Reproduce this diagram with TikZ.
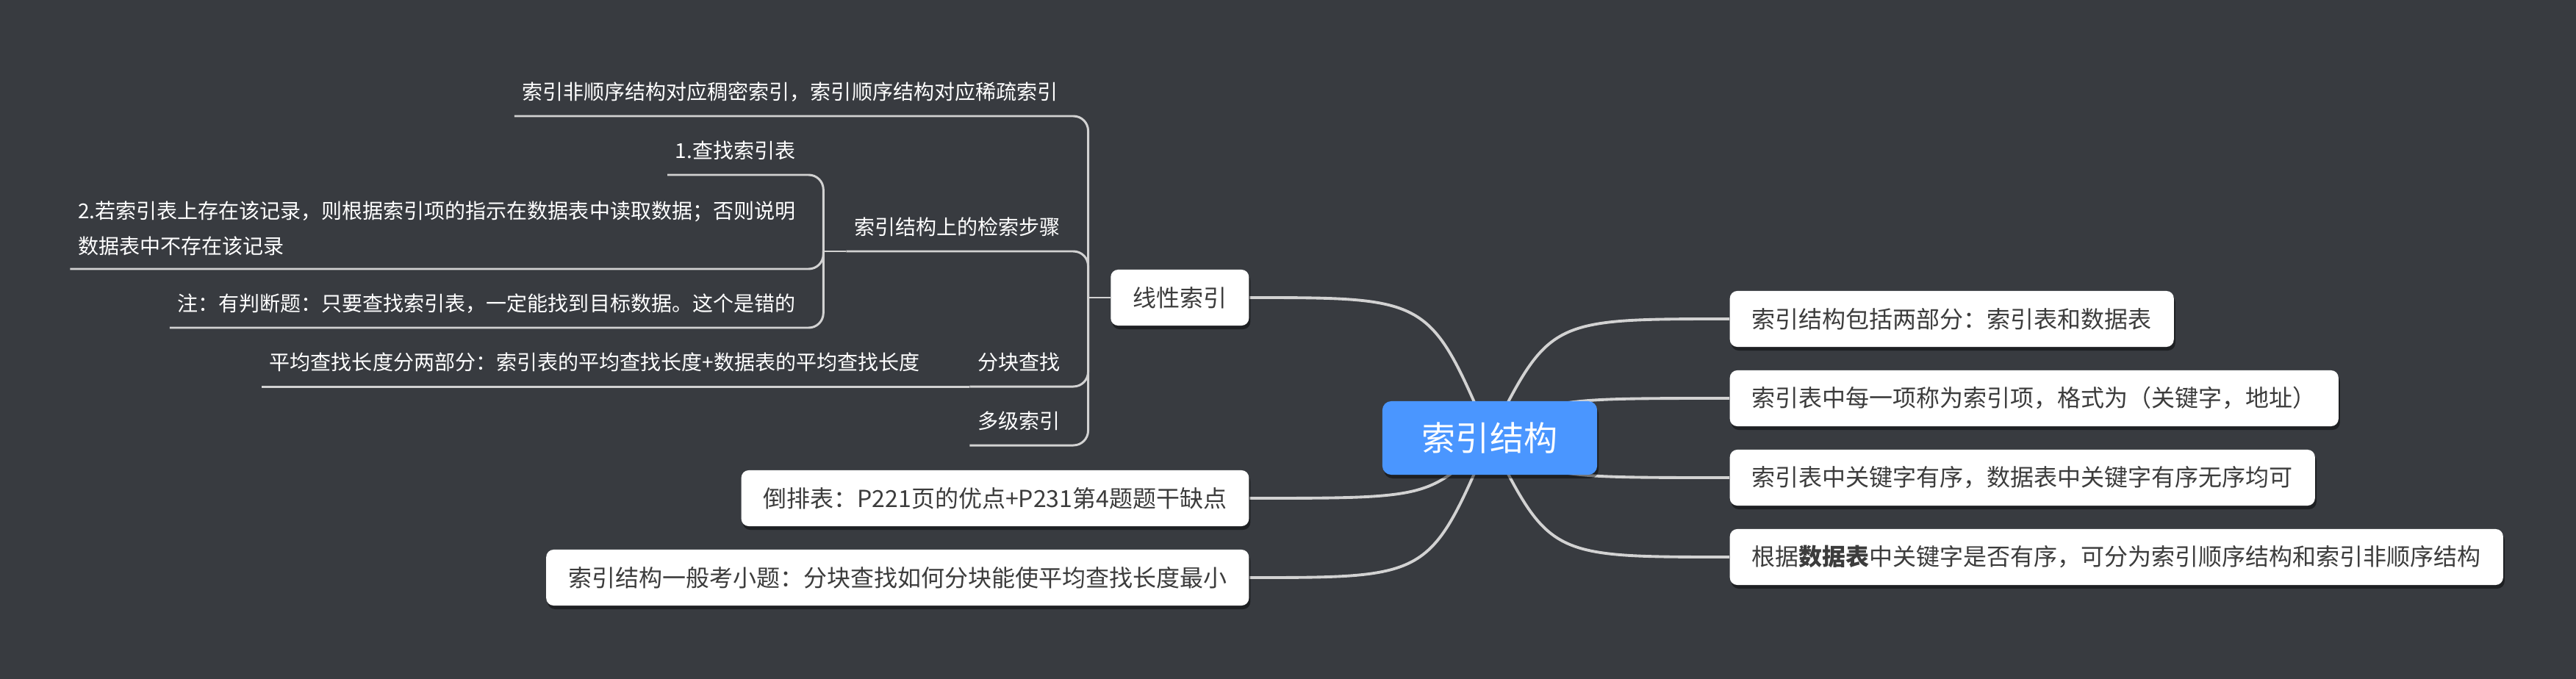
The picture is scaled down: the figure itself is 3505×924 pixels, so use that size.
\documentclass[tikz,border=0pt]{standalone}
\usepackage{fontspec}
\setmainfont{Noto Sans CJK SC}
\usetikzlibrary{backgrounds,calc,shadows}

\definecolor{bgcol}{HTML}{383B40}
\definecolor{rootblue}{HTML}{4A96FF}
\definecolor{linegray}{HTML}{D2D2D2}
\definecolor{textgray}{HTML}{3C3C3C}

\begin{document}
\begin{tikzpicture}[x=0.01cm, y=-0.01cm,
  rootbox/.style={fill=rootblue, text=white, rounded corners=0.12cm, minimum width=2.92cm, minimum height=1cm,
    font=\fontsize{13.1pt}{16pt}\selectfont, drop shadow={shadow xshift=0.02cm, shadow yshift=-0.05cm, opacity=0.45, fill=black}},
  topic/.style={fill=white, text=textgray, rounded corners=0.1cm, minimum height=0.76cm, inner xsep=0.3cm,
    font=\fontsize{9.1pt}{11pt}\selectfont, drop shadow={shadow xshift=0.02cm, shadow yshift=-0.05cm, opacity=0.45, fill=black}},
  leaf/.style={anchor=south east, text=white, inner xsep=0.1cm, inner ysep=0.13cm, text depth=0.25em,
    font=\fontsize{7.97pt}{9.5pt}\selectfont},
  link/.style={draw=linegray, line width=1.1pt},
  branch/.style={draw=linegray, line width=0.85pt, rounded corners=0.2cm}]
  \useasboundingbox (0,0) rectangle (3505,924);

  % centre and right side
  \node[rootbox] (root) at (2027,596) {索引结构};
  \node[topic, anchor=west] (parts) at (2353,434) {索引结构包括两部分：索引表和数据表};
  \node[topic, anchor=west] (item) at (2353,542) {索引表中每一项称为索引项，格式为（关键字，地址）};
  \node[topic, anchor=west] (order) at (2353,650) {索引表中关键字有序，数据表中关键字有序无序均可};
  \node[topic, anchor=west] (kind) at (2353,758) {根据\textbf{数据表}中关键字是否有序，可分为索引顺序结构和索引非顺序结构};

  % left side
  \node[topic, anchor=east] (linear) at (1700,405) {线性索引};
  \node[topic, anchor=east] (invert) at (1700,678) {倒排表：P221页的优点+P231第4题题干缺点};
  \node[topic, anchor=east] (exam) at (1700,786) {索引结构一般考小题：分块查找如何分块能使平均查找长度最小};

  % branches of the linear index
  \node[leaf] (dense) at (1450,158) {索引非顺序结构对应稠密索引，索引顺序结构对应稀疏索引};
  \node[leaf] (steps) at (1453,342) {索引结构上的检索步骤};
  \node[leaf] (find) at (1093,238) {1.查找索引表};
  \node[leaf, text depth=, align=left, font=\fontsize{7.97pt}{13.66pt}\selectfont] (read) at (1093,366)
    {2.若索引表上存在该记录，则根据索引项的指示在数据表中读取数据；否则说明\\数据表中不存在该记录\rule[-0.25em]{0pt}{0.25em}};
  \node[leaf] (note) at (1093,446) {注：有判断题：只要查找索引表，一定能找到目标数据。这个是错的};
  \node[leaf] (block) at (1453,526) {分块查找};
  \node[leaf] (avg) at (1262,526) {平均查找长度分两部分：索引表的平均查找长度+数据表的平均查找长度};
  \node[leaf] (multi) at (1453,606) {多级索引};

  \coordinate (trunk) at ($(linear.west)+(-30,0)$);
  \coordinate (sub) at ($(steps.south west)+(-31,0)$);

  \begin{pgfonlayer}{background}
    \fill[bgcol] (0,0) rectangle (3505,924);
    \foreach \n in {parts,item,order,kind}
      \draw[link] (root.center) .. controls ($(root.center |- \n.west)!0.25!(\n.west)$) .. (\n.west);
    \foreach \n in {linear,invert,exam}
      \draw[link] (root.center) .. controls ($(root.center |- \n.east)!0.25!(\n.east)$) .. (\n.east);
    \draw[branch] (linear.west) -- (trunk);
    \foreach \n in {dense,steps,block,multi}
      \draw[branch] (trunk) |- (\n.south west);
    \draw[branch] (steps.south west) -- (sub);
    \foreach \n in {find,read,note}
      \draw[branch] (sub) |- (\n.south west);
    \draw[branch] (block.south west) -- (avg.south west);
  \end{pgfonlayer}
\end{tikzpicture}
\end{document}
